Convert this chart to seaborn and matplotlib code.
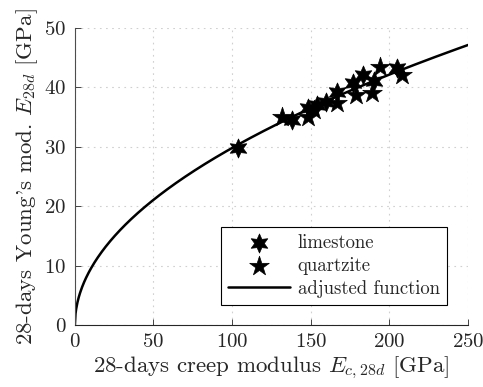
import numpy as np
import pandas as pd
import matplotlib
matplotlib.use("Agg")
import matplotlib.pyplot as plt
import seaborn as sns

# Measured 28-day moduli [GPa]
limestone_creep = [104, 138, 148, 154, 160, 167, 177, 183, 190, 205]
limestone_young = [29.8, 34.5, 36.5, 37.0, 37.5, 39.2, 40.7, 42.0, 41.0, 43.3]
quartzite_creep = [132, 148, 152, 167, 179, 189, 194, 208]
quartzite_young = [35.0, 35.0, 36.2, 37.4, 38.7, 39.0, 43.5, 42.0]

# Adjusted power function E28 = a * Ec^b
fit_a = 2.98
fit_b = 0.5
fit_x = np.linspace(0, 250, 600)
fit_y = fit_a * fit_x ** fit_b

sns.set_theme(style="white")
plt.rcParams["font.family"] = ["cmr10", "DejaVu Serif"]
plt.rcParams["mathtext.fontset"] = "cm"
plt.rcParams["axes.formatter.use_mathtext"] = True

fig = plt.figure(figsize=(4.83, 3.87), dpi=100)
ax = fig.add_axes([0.155, 0.160, 0.814, 0.768])

lime = pd.DataFrame({"x": limestone_creep, "y": limestone_young})
quar = pd.DataFrame({"x": quartzite_creep, "y": quartzite_young})
fit = pd.DataFrame({"x": fit_x, "y": fit_y})

hexagram = (6, 1, 0)
sns.lineplot(data=fit, x="x", y="y", ax=ax, color="black", linewidth=1.8,
             label="adjusted function", zorder=2, sort=False)
sns.scatterplot(data=lime, x="x", y="y", ax=ax, marker=hexagram, s=190,
                color="black", edgecolor="black", linewidth=0.5,
                label="limestone", zorder=3)
sns.scatterplot(data=quar, x="x", y="y", ax=ax, marker="*", s=220,
                color="black", edgecolor="black", linewidth=0.5,
                label="quartzite", zorder=3)

ax.set_xlim(0, 250)
ax.set_ylim(0, 50)
ax.set_xticks([0, 50, 100, 150, 200, 250])
ax.set_yticks([0, 10, 20, 30, 40, 50])
ax.grid(True, color="#d0d0d0", linestyle=(0, (1.5, 4)), linewidth=0.8)
ax.set_axisbelow(True)

for side in ("top", "right"):
    ax.spines[side].set_visible(False)
ax.spines["left"].set_color("#4d4d4d")
ax.spines["bottom"].set_color("#262626")
ax.spines["left"].set_linewidth(0.8)
ax.spines["bottom"].set_linewidth(0.8)
ax.tick_params(direction="in", length=4, width=0.6, labelsize=15,
               colors="#262626", left=True, bottom=True, pad=6)

ax.set_xlabel(r"28-days creep modulus $E_{c,28d}$ [GPa]", fontsize=16.5, labelpad=2)
ax.set_ylabel(r"28-days Young's mod. $E_{28d}$ [GPa]", fontsize=16.5, labelpad=3)

handles, labels = ax.get_legend_handles_labels()
order = [labels.index("limestone"), labels.index("quartzite"), labels.index("adjusted function")]
leg = ax.legend([handles[i] for i in order], [labels[i] for i in order],
                loc="lower right", bbox_to_anchor=(0.947, 0.067), borderaxespad=0,
                fontsize=13.5, frameon=True, fancybox=False, edgecolor="black",
                framealpha=1, borderpad=0.4, handlelength=3.3, handletextpad=0.4,
                labelspacing=0.25)
leg.get_frame().set_linewidth(0.8)

fig.savefig("out.png", dpi=100)
